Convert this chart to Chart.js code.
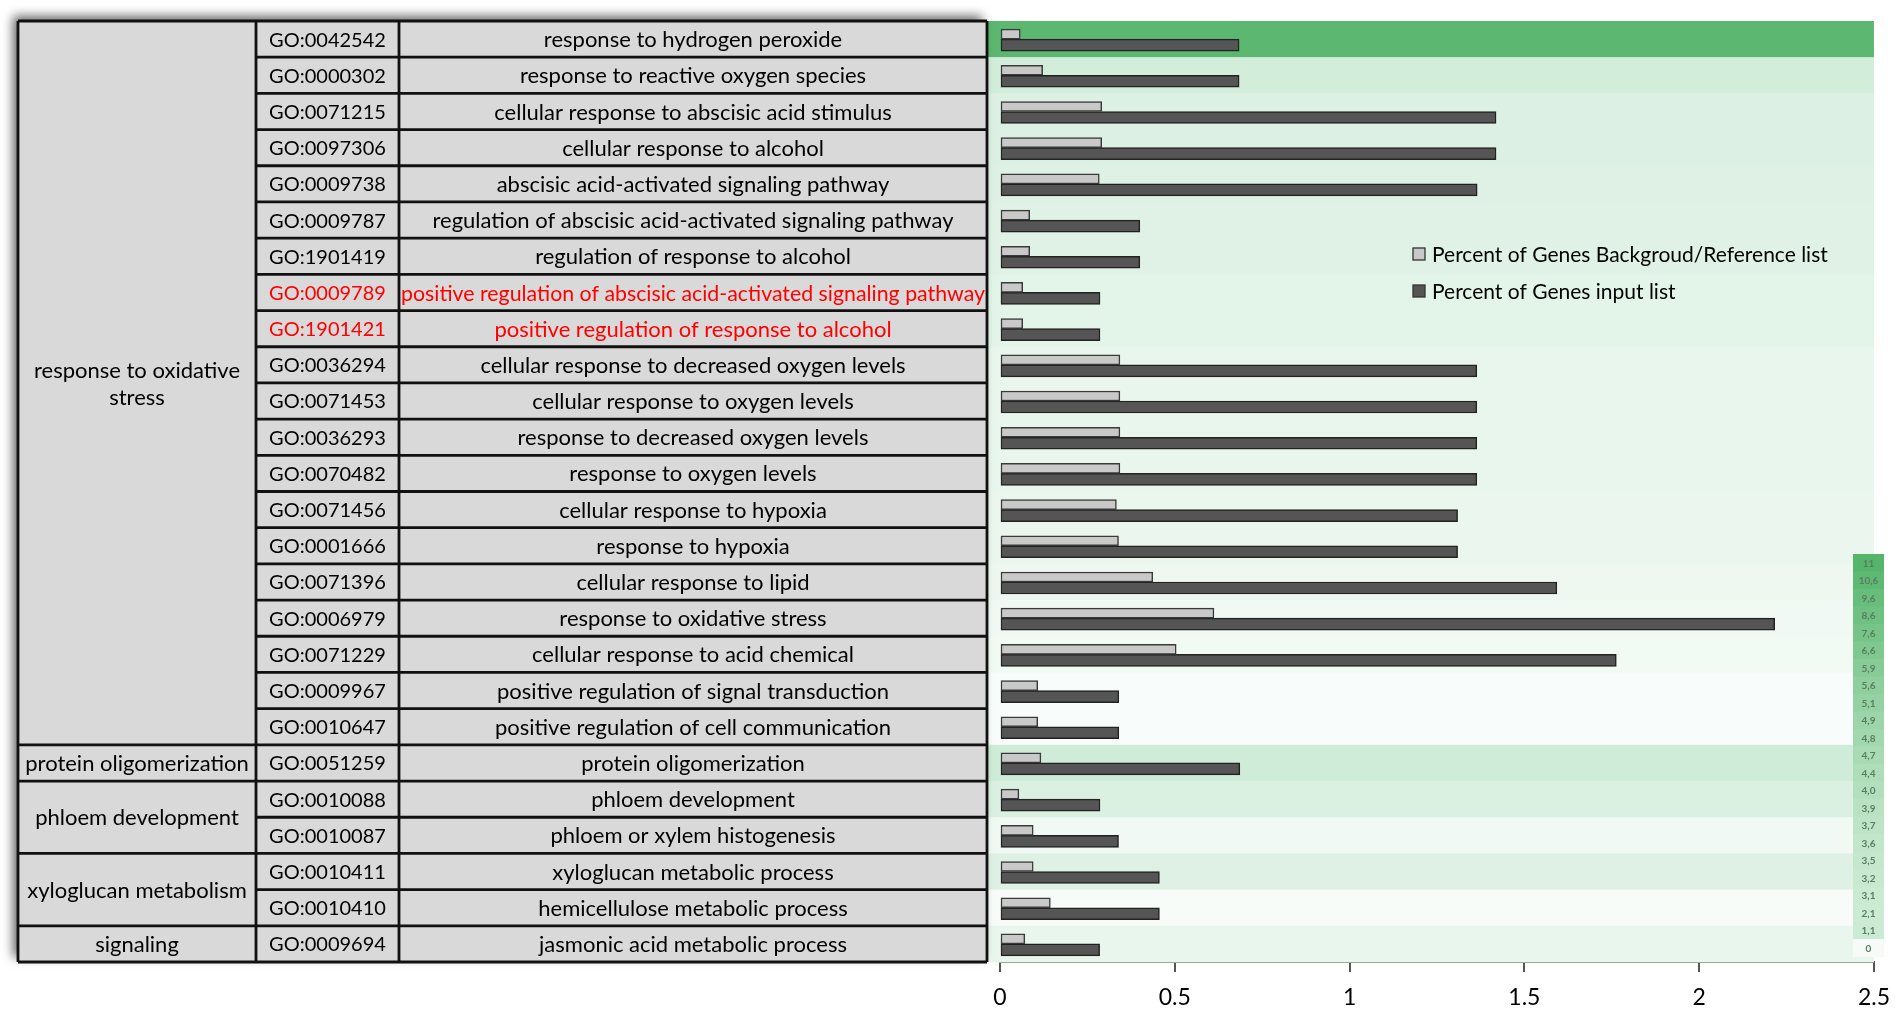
<!DOCTYPE html>
<html>
<head>
<meta charset="utf-8">
<script src="https://cdn.jsdelivr.net/npm/chart.js@4.4.1/dist/chart.umd.min.js"></script>
<style>
html, body { margin: 0; padding: 0; background: #fff; }
#wrap { width: 1902px; height: 1012px; position: relative; }
</style>
</head>
<body>
<div id="wrap"><canvas id="chart" width="1902" height="1012"></canvas></div>
<script>
// GO terms, one per row (top to bottom)
const goIds = ['GO:0042542', 'GO:0000302', 'GO:0071215', 'GO:0097306', 'GO:0009738', 'GO:0009787',
    'GO:1901419', 'GO:0009789', 'GO:1901421', 'GO:0036294', 'GO:0071453', 'GO:0036293', 'GO:0070482',
    'GO:0071456', 'GO:0001666', 'GO:0071396', 'GO:0006979', 'GO:0071229', 'GO:0009967', 'GO:0010647',
    'GO:0051259', 'GO:0010088', 'GO:0010087', 'GO:0010411', 'GO:0010410', 'GO:0009694'];
const terms = ['response to hydrogen peroxide', 'response to reactive oxygen species',
    'cellular response to abscisic acid stimulus', 'cellular response to alcohol',
    'abscisic acid-activated signaling pathway', 'regulation of abscisic acid-activated signaling pathway',
    'regulation of response to alcohol', 'positive regulation of abscisic acid-activated signaling pathway',
    'positive regulation of response to alcohol', 'cellular response to decreased oxygen levels',
    'cellular response to oxygen levels', 'response to decreased oxygen levels', 'response to oxygen levels',
    'cellular response to hypoxia', 'response to hypoxia', 'cellular response to lipid',
    'response to oxidative stress', 'cellular response to acid chemical',
    'positive regulation of signal transduction', 'positive regulation of cell communication',
    'protein oligomerization', 'phloem development', 'phloem or xylem histogenesis',
    'xyloglucan metabolic process', 'hemicellulose metabolic process', 'jasmonic acid metabolic process'];
const groupNames = ['response to oxidative stress', 'protein oligomerization', 'phloem development',
    'xyloglucan metabolism', 'signaling'];
const groupSpans = [20, 1, 2, 2, 1];
const redRows = [7, 8];

// bar values (percent of genes)
const refPercent = [0.058, 0.122, 0.291, 0.291, 0.284, 0.085, 0.085, 0.065, 0.065, 0.343, 0.343, 0.343, 0.343,
    0.333, 0.339, 0.437, 0.612, 0.504, 0.108, 0.108, 0.117, 0.054, 0.095, 0.095, 0.144, 0.071];
const inputPercent = [0.684, 0.684, 1.419, 1.419, 1.365, 0.40, 0.40, 0.286, 0.286, 1.364, 1.364, 1.364, 1.364,
    1.309, 1.309, 1.593, 2.216, 1.763, 0.340, 0.340, 0.686, 0.286, 0.339, 0.456, 0.456, 0.285];
const foldEnrichment = [11, 5.6, 4.9, 4.9, 4.8, 4.7, 4.7, 4.4, 4.4, 4.0, 4.0, 4.0, 4.0, 3.9, 3.9, 3.7, 3.6,
    3.5, 3.1, 3.1, 5.9, 5.1, 3.6, 4.8, 3.2, 4.0];
const heatKey = ['11', '10,6', '9,6', '8,6', '7,6', '6,6', '5,9', '5,6', '5,1', '4,9', '4,8', '4,7', '4,4',
    '4,0', '3,9', '3,7', '3,6', '3,5', '3,2', '3,1', '2,1', '1,1', '0'];
const xTicks = [0, 0.5, 1, 1.5, 2, 2.5];
const seriesNames = ['Percent of Genes Backgroud/Reference list', 'Percent of Genes input list'];

const FONT = 'Lato, "Open Sans", sans-serif';
const colX = [18, 256, 399, 987];
const rowStops = [[0, '#ffffff'], [3, '#fafdfb'], [4, '#e9f6ed'], [5, '#dbf0e2'], [6, '#cdebd6'],
    [8, '#a2d7ae'], [11, '#5cb870']];

function rgb(h) {
    return [parseInt(h.substr(1, 2), 16), parseInt(h.substr(3, 2), 16), parseInt(h.substr(5, 2), 16)];
}
function mix(a, b, t) {
    const ca = rgb(a), cb = rgb(b);
    return 'rgb(' + ca.map((c, i) => Math.round(c + (cb[i] - c) * t)).join(',') + ')';
}
function stopColor(v) {
    for (let i = 1; i < rowStops.length; i++) {
        if (v <= rowStops[i][0]) {
            const s0 = rowStops[i - 1], s1 = rowStops[i];
            return mix(s0[1], s1[1], (v - s0[0]) / (s1[0] - s0[0]));
        }
    }
    return rowStops[rowStops.length - 1][1];
}

const tablePlugin = {
    id: 'goTable',
    beforeDatasetsDraw(chart) {
        const ctx = chart.ctx, y = chart.scales.y, area = chart.chartArea;
        const h = y.getPixelForValue(1) - y.getPixelForValue(0);
        ctx.save();
        foldEnrichment.forEach((v, i) => {
            const top = y.getPixelForValue(i) - h / 2;
            ctx.fillStyle = stopColor(v);
            ctx.fillRect(colX[3], top, area.right - colX[3], h + 0.5);
        });
        ctx.restore();
    },
    afterDraw(chart) {
        const ctx = chart.ctx, y = chart.scales.y;
        const h = y.getPixelForValue(1) - y.getPixelForValue(0);
        const top = y.getPixelForValue(0) - h / 2;
        const bottom = y.getPixelForValue(goIds.length - 1) + h / 2;
        ctx.save();
        // table body with shadow
        ctx.shadowColor = 'rgba(0,0,0,0.6)';
        ctx.shadowBlur = 10;
        ctx.shadowOffsetX = -5;
        ctx.shadowOffsetY = -5;
        ctx.fillStyle = '#d9d9d9';
        ctx.fillRect(colX[0], top, colX[3] - colX[0], bottom - top);
        ctx.shadowColor = 'transparent';

        ctx.strokeStyle = '#111';
        ctx.lineWidth = 2.8;
        ctx.beginPath();
        for (let i = 0; i <= goIds.length; i++) {
            const yy = top + i * h;
            ctx.moveTo(colX[1], yy);
            ctx.lineTo(colX[3], yy);
        }
        let r = 0;
        [0].concat(groupSpans).forEach(s => {
            r += s;
            const yy = top + r * h;
            ctx.moveTo(colX[0], yy);
            ctx.lineTo(colX[1], yy);
        });
        colX.forEach(x => { ctx.moveTo(x, top); ctx.lineTo(x, bottom); });
        ctx.stroke();

        // row texts
        ctx.textAlign = 'center';
        ctx.textBaseline = 'middle';
        goIds.forEach((id, i) => {
            const cy = y.getPixelForValue(i) + 1;
            ctx.fillStyle = redRows.includes(i) ? '#ff0000' : '#000';
            ctx.font = '20px ' + FONT;
            ctx.fillText(id, (colX[1] + colX[2]) / 2, cy, colX[2] - colX[1] - 8);
            ctx.font = '22px ' + FONT;
            ctx.fillText(terms[i], (colX[2] + colX[3]) / 2, cy, colX[3] - colX[2] - 4);
        });

        // group labels
        ctx.fillStyle = '#000';
        ctx.font = '22px ' + FONT;
        let start = 0;
        groupNames.forEach((name, g) => {
            const cy = top + (start + groupSpans[g] / 2) * h + 1;
            const maxW = colX[1] - colX[0] - 4;
            let lines = [name];
            if (ctx.measureText(name).width > maxW) {
                const words = name.split(' ');
                lines = [];
                let cur = '';
                words.forEach(w => {
                    const test = cur ? cur + ' ' + w : w;
                    if (ctx.measureText(test).width > maxW - 12 && cur) { lines.push(cur); cur = w; }
                    else cur = test;
                });
                lines.push(cur);
            }
            lines.forEach((ln, k) => {
                ctx.fillText(ln, (colX[0] + colX[1]) / 2, cy + (k - (lines.length - 1) / 2) * 27, maxW);
            });
            start += groupSpans[g];
        });

        // series legend
        ctx.textAlign = 'left';
        ctx.font = '21px ' + FONT;
        [254, 291].forEach((ly, k) => {
            const ds = chart.data.datasets[k];
            ctx.fillStyle = ds.backgroundColor;
            ctx.fillRect(1413, ly - 6, 12, 12);
            ctx.strokeStyle = '#333';
            ctx.lineWidth = 1.3;
            ctx.strokeRect(1413, ly - 6, 12, 12);
            ctx.fillStyle = '#000';
            ctx.fillText(ds.label, 1432, ly + 1);
        });

        // colour key
        const kx = 1853, kw = 31, ky = 554, kh = 17.5;
        ctx.textAlign = 'center';
        ctx.font = 'bold 10px ' + FONT;
        heatKey.forEach((txt, i) => {
            const t = i === heatKey.length - 1 ? -1 : 1 - i / (heatKey.length - 2);
            ctx.fillStyle = t < 0 ? '#f7fbf8' : mix('#cdebd4', '#55b56a', Math.pow(t, 1.6));
            ctx.fillRect(kx, ky + i * kh, kw, kh + 0.5);
            ctx.fillStyle = '#5a7d63';
            ctx.fillText(txt, kx + kw / 2, ky + i * kh + kh / 2 + 1);
        });
        ctx.restore();
    }
};

function draw() {
    new Chart(document.getElementById('chart'), {
        type: 'bar',
        data: {
            labels: terms,
            datasets: [
                { label: seriesNames[0], data: refPercent, backgroundColor: '#c9c9c9', borderColor: '#3a3a3a',
                  borderWidth: 1.5, borderSkipped: false, barThickness: 10 },
                { label: seriesNames[1], data: inputPercent, backgroundColor: '#555555', borderColor: '#222222',
                  borderWidth: 1.5, borderSkipped: false, barThickness: 12 }
            ]
        },
        options: {
            indexAxis: 'y',
            responsive: false,
            animation: false,
            devicePixelRatio: 1,
            layout: { padding: { left: 1000, right: 23, top: 21, bottom: 0 } },
            plugins: { legend: { display: false }, tooltip: { enabled: false } },
            scales: {
                x: {
                    type: 'linear', min: 0, max: 2.5,
                    afterBuildTicks: s => { s.ticks = xTicks.map(v => ({ value: v })); },
                    afterFit: s => { s.height = 50; },
                    ticks: { color: '#000', font: { family: FONT, size: 23 }, padding: 12,
                             callback: v => String(v) },
                    grid: { drawOnChartArea: false, drawTicks: true, tickLength: 10, color: '#555', lineWidth: 2 },
                    border: { display: true, color: '#555', width: 2 }
                },
                y: { type: 'category', display: false, offset: true, grid: { display: false } }
            }
        },
        plugins: [tablePlugin]
    });
}

if (document.fonts && document.fonts.load) {
    document.fonts.load('22px Lato').then(draw, draw);
} else {
    draw();
}
</script>
</body>
</html>
